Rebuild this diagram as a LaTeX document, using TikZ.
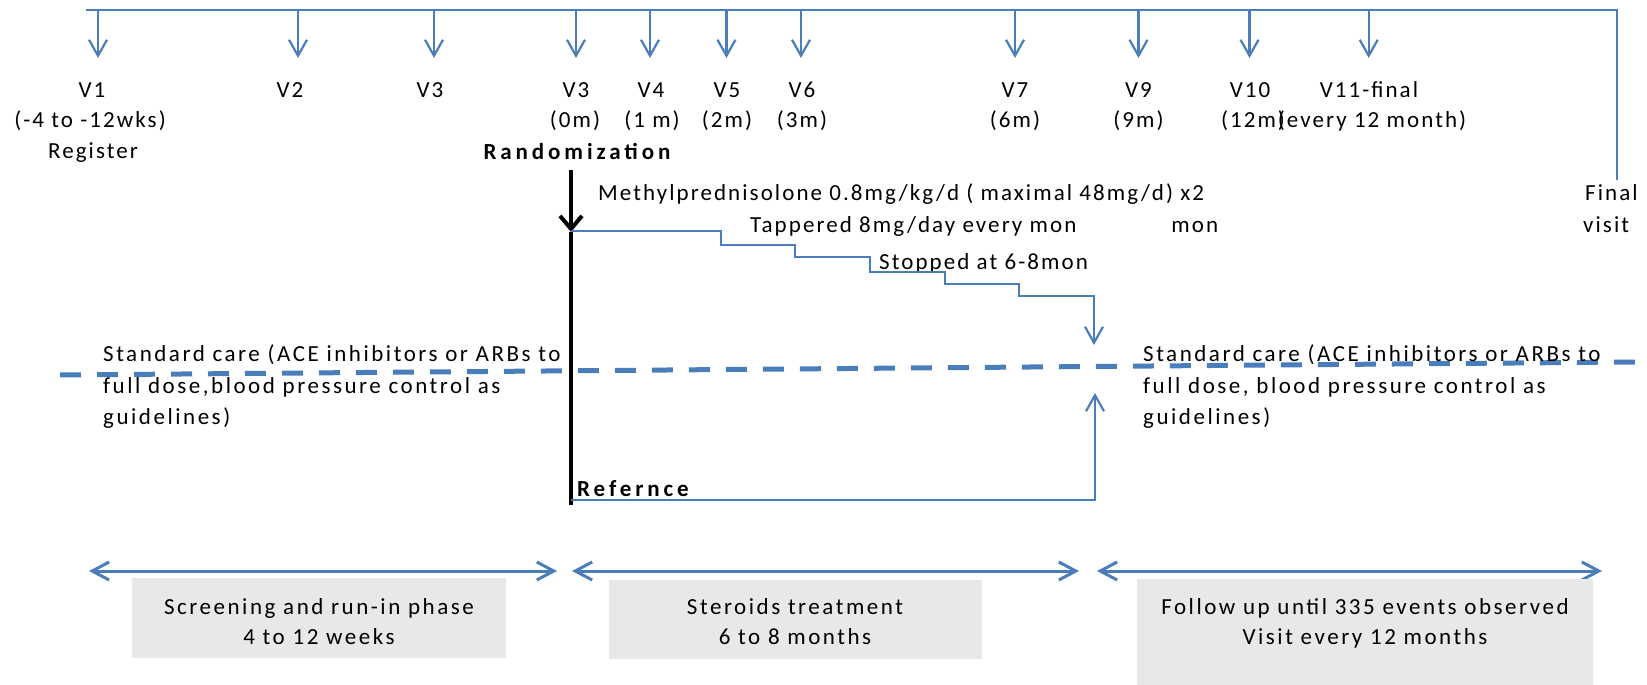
\documentclass[tikz,border=0pt]{standalone}
\usepackage{fontspec}
\setmainfont{Carlito}[LetterSpace=9]
\usetikzlibrary{arrows.meta}
\definecolor{lineblue}{RGB}{74,126,187}
\definecolor{boxgray}{RGB}{232,232,232}
\begin{document}
\begin{tikzpicture}[x=1pt,y=-1pt,
  every node/.style={inner sep=0pt, font=\fontsize{23}{28}\selectfont},
  lbl/.style={anchor=base},
  lblw/.style={anchor=base west},
  widew/.style={anchor=base west, font=\fontsize{23}{28}\selectfont\addfontfeature{LetterSpace=11}},
  widec/.style={anchor=base, font=\fontsize{23}{28}\selectfont\addfontfeature{LetterSpace=11}},
  boldlbl/.style={anchor=base west, font=\fontsize{23}{28}\selectfont\bfseries\addfontfeature{LetterSpace=17}},
  bluln/.style={draw=lineblue, line width=2.2pt},
  downarr/.style={bluln, -{Straight Barb[length=16pt,width=18pt]}},
  spanarr/.style={draw=lineblue, line width=3pt,
    {Straight Barb[length=17pt,width=18pt]}-{Straight Barb[length=17pt,width=18pt]}},
  dashln/.style={draw=lineblue, line width=5pt, dash pattern=on 21pt off 16pt},
  phasebox/.style={fill=boxgray}
]
\useasboundingbox (0,0) rectangle (1647,685);

% timeline along the top
\coordinate (tl) at (86,10);
\coordinate (tr) at (1617,10);
\coordinate (fin) at (1617,180);
\draw[bluln] (tl) -- (tr) -- (fin);

% visits: arrow x / label x / month x / visit / month
\foreach \n/\ax/\lx/\sx/\vt/\st in {
  1/98/92/90/V1/{(-4 to -12wks)},
  2/298/290/290/V2/{},
  3/434/430/430/V3/{},
  4/576/576/575/V3/{(0m)},
  5/650/651/652/V4/{(1 m)},
  6/726.5/727/727/V5/{(2m)},
  7/801/802/802/V6/{(3m)},
  8/1015/1015/1015/V7/{(6m)},
  9/1138.5/1138.5/1138.5/V9/{(9m)},
  10/1249.5/1250/1253/V10/{(12m)},
  11/1368.7/1369/1372/V11-final/{(every 12 month)}}{
  \coordinate (top\n) at (\ax,10);
  \coordinate (end\n) at (\ax,58);
  \draw[downarr] (top\n) -- (end\n);
  \node[lbl] (vis\n) at (\lx,98) {\vt};
  \node[lbl] (sub\n) at (\sx,128) {\st};
}
\node[lbl] (reg) at (93,158) {Register};

% randomization marker
\node[boldlbl, anchor=base] (rand) at (577,159) {Randomization};
\coordinate (rtop) at (571,170);
\coordinate (rmid) at (571,232);
\coordinate (rbot) at (571,505);
\draw[line width=4pt] (rmid) -- (rbot);
\draw[line width=4pt, -{Straight Barb[length=13pt,width=22pt]}] (rtop) -- (rmid);

% steroid arm
\node[lblw] (methyl) at (598,200) {Methylprednisolone 0.8mg/kg/d ( maximal 48mg/d) x2};
\node[lblw] (taper) at (750,232) {Tappered 8mg/day every mon};
\node[anchor=base east] (mon) at ([xshift=14pt,yshift=-32pt]methyl.base east) {mon};
\node[lblw] (stop) at (879,269) {Stopped at 6-8mon};
\coordinate (sa) at (571,231);
\coordinate (sb) at (1094,345);
\draw[downarr] (sa) -- (721,231) -- (721,245) -- (795,245) -- (795,257)
  -- (870,257) -- (870,272) -- (945,272) -- (945,284) -- (1019,284)
  -- (1019,296) -- (1094,296) -- (sb);

% reference arm
\node[boldlbl] (ref) at (577,496) {Refernce};
\coordinate (ra) at (571,500);
\coordinate (rb) at (1095,393);
\draw[downarr] (ra) -- (1095,500) -- (rb);

% standard care
\coordinate (dl) at (60,375);
\coordinate (dr) at (1636,362);
\draw[dashln] (dl) -- (dr);
\node[widew] (scl1) at (103,361) {Standard care (ACE inhibitors or ARBs to};
\node[widew] (scl2) at (103,393) {full dose,blood pressure control as};
\node[widew] (scl3) at (103,424) {guidelines)};
\node[widew] (scr1) at (1143,361) {Standard care (ACE inhibitors or ARBs to};
\node[widew] (scr2) at (1143,393) {full dose, blood pressure control as};
\node[widew] (scr3) at (1143,424) {guidelines)};

% final visit
\node[lblw] (final1) at (1585,200) {Final};
\node[lblw] (final2) at (1583,232) {visit};

% phases
\coordinate (p1a) at (89,571);
\coordinate (p1b) at (557,571);
\coordinate (p2a) at (572,571);
\coordinate (p2b) at (1079,571);
\coordinate (p3a) at (1097,571);
\coordinate (p3b) at (1602,571);
\draw[spanarr] (p1a) -- (p1b);
\draw[spanarr] (p2a) -- (p2b);
\draw[spanarr] (p3a) -- (p3b);

\fill[phasebox] (132,578) rectangle (506,658);
\fill[phasebox] (609,580) rectangle (982,659);
\fill[phasebox] (1137,579) rectangle (1593,685);
\node[widec] (ph1a) at (319,614) {Screening and run-in phase};
\node[widec] (ph1b) at (319,644) {4 to 12 weeks};
\node[widec] (ph2a) at (795,614) {Steroids treatment};
\node[widec] (ph2b) at (795,644) {6 to 8 months};
\node[widec] (ph3a) at (1365,614) {Follow up until 335 events observed};
\node[widec] (ph3b) at (1365,644) {Visit every 12 months};
\end{tikzpicture}
\end{document}
